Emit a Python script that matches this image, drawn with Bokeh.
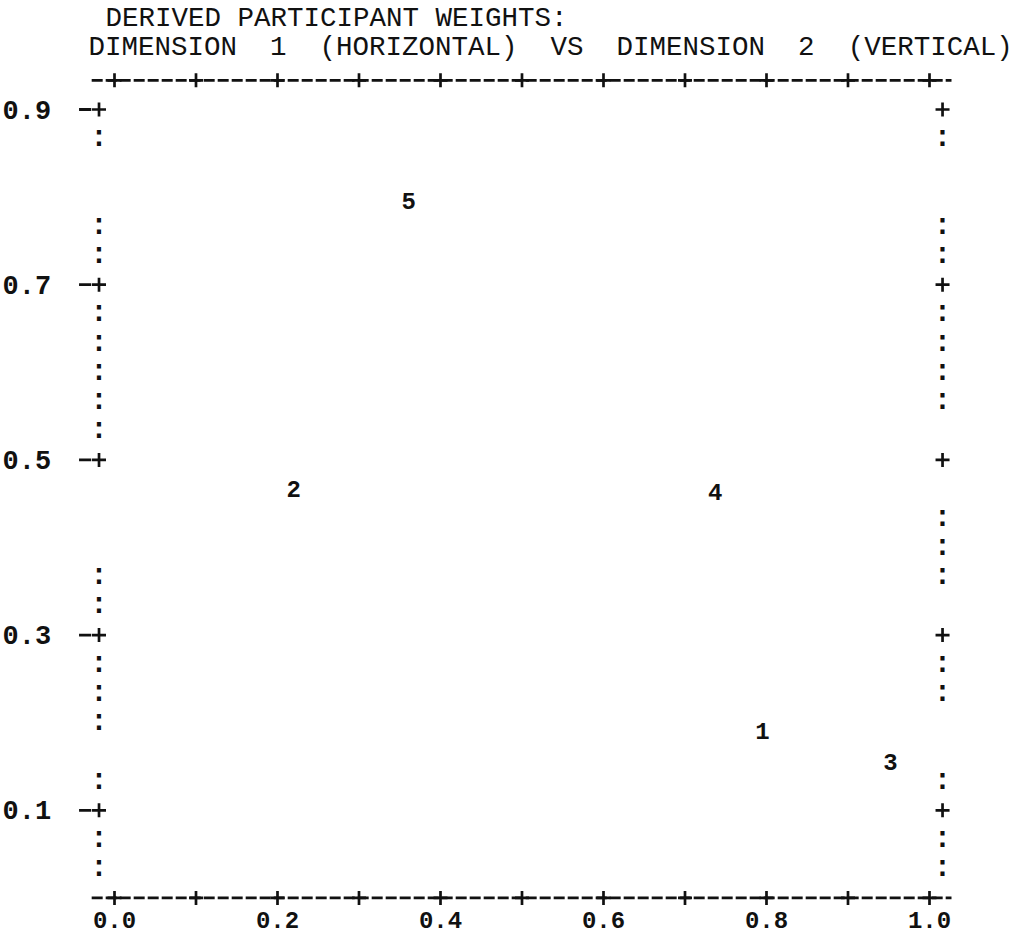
from bokeh.plotting import figure
from bokeh.models import Range1d
from bokeh.core.properties import value
from bokeh.embed import file_html
from bokeh.resources import INLINE

# ---- data ----
participants = ["1", "2", "3", "4", "5"]
dimension1 = [0.795, 0.220, 0.952, 0.737, 0.361]   # horizontal
dimension2 = [0.191, 0.467, 0.155, 0.463, 0.796]   # vertical

x_ticks = [0.0, 0.1, 0.2, 0.3, 0.4, 0.5, 0.6, 0.7, 0.8, 0.9, 1.0]
x_tick_labels = ["0.0", "0.2", "0.4", "0.6", "0.8", "1.0"]
y_tick_labels = ["0.1", "0.3", "0.5", "0.7", "0.9"]

NB = "\u00a0"
title_line1 = "DERIVED PARTICIPANT WEIGHTS:"
title_line2 = (NB * 2).join(["DIMENSION", "1", "(HORIZONTAL)", "VS",
                              "DIMENSION", "2", "(VERTICAL)"])

# ---- layout (frame decoration of the line-printer plot) ----
ROW = 1.0 / 30.0            # one printer line in vertical units
TOP = 28 * ROW              # top border row
LEFT_COL = -0.0190
RIGHT_COL = 1.0160
left_colon_rows = [26, 23, 22, 20, 19, 18, 17, 16, 11, 10, 8, 7, 6, 4, 2, 1]
right_colon_rows = [26, 23, 22, 20, 19, 18, 17, 13, 12, 11, 8, 7, 4, 2, 1]

INK = "#111111"
MONO = value("Liberation Mono")

p = figure(width=1019, height=935, output_backend="svg", toolbar_location=None,
           x_range=Range1d(-0.13988, 1.11043), y_range=Range1d(-0.04292, 1.02443),
           min_border=0)
p.axis.visible = False
p.grid.visible = False
p.outline_line_color = None
p.background_fill_color = "white"
p.border_fill_color = "white"

# borders (dashed like typed hyphens), with + at every 0.1
bx = [-0.028, 1.027]
for yb in (0.0, TOP):
    p.line(bx, [yb, yb], line_color=INK, line_width=2.8, line_dash="11 3")
    p.scatter(x_ticks, [yb] * len(x_ticks), marker="cross", size=14,
              line_color=INK, line_width=2.7)

# vertical sides: plus at labelled ticks, colons elsewhere
y_tick_vals = [float(s) for s in y_tick_labels]
for xc in (LEFT_COL, RIGHT_COL):
    p.scatter([xc] * len(y_tick_vals), y_tick_vals, marker="cross", size=14,
              line_color=INK, line_width=2.7)
p.segment(x0=[-0.0435] * len(y_tick_vals), y0=y_tick_vals,
          x1=[-0.0285] * len(y_tick_vals), y1=y_tick_vals,
          line_color=INK, line_width=2.8)

colon_style = dict(text_font=MONO, text_font_size=value("29px"), text_font_style="bold",
                   text_align="center", text_baseline="middle", text_color=INK)
p.text(x=[LEFT_COL] * len(left_colon_rows), y=[k * ROW for k in left_colon_rows],
       text=[":"] * len(left_colon_rows), **colon_style)
p.text(x=[RIGHT_COL] * len(right_colon_rows), y=[k * ROW for k in right_colon_rows],
       text=[":"] * len(right_colon_rows), **colon_style)

# tick labels
p.text(x=[-0.1075] * len(y_tick_labels), y=y_tick_vals, text=y_tick_labels,
       text_font=MONO, text_font_size=value("27px"), text_font_style="bold",
       text_align="center", text_baseline="middle", text_color=INK)
p.text(x=[float(s) for s in x_tick_labels], y=[-0.0255] * len(x_tick_labels),
       text=x_tick_labels, text_font=MONO, text_font_size=value("24px"),
       text_font_style="bold", text_align="center", text_baseline="middle",
       text_color=INK)

# participant points
p.text(x=dimension1, y=dimension2, text=participants, text_font=MONO,
       text_font_size=value("24px"), text_font_style="bold",
       text_align="center", text_baseline="middle", text_color=INK)

# heading
p.text(x=[-0.0110], y=[1.0038], text=[title_line1], text_font=MONO,
       text_font_size=value("27.5px"), text_align="left", text_baseline="middle",
       text_color=INK)
p.text(x=[-0.0319], y=[0.9707], text=[title_line2], text_font=MONO,
       text_font_size=value("27.5px"), text_align="left", text_baseline="middle",
       text_color=INK)

open("out.html", "w").write(file_html(p, INLINE))
